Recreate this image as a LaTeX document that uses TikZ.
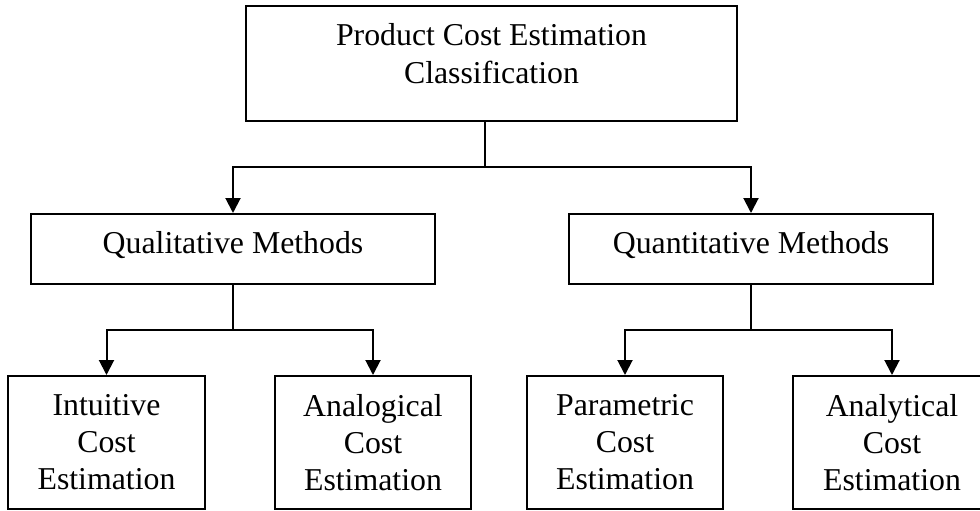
\documentclass[tikz,border=0pt]{standalone}
\usepackage{fontspec}
\setmainfont{Liberation Serif}
\usetikzlibrary{arrows.meta}
\begin{document}
\begin{tikzpicture}[x=1pt,y=-1pt,
  box/.style={draw=black,line width=2pt,align=center,inner sep=0pt,
    font=\fontsize{31.8}{37}\selectfont},
  conn/.style={line width=2pt},
  arr/.style={conn,-{Triangle[width=15pt,length=15pt]}}]
\useasboundingbox (0,0) rectangle (980,511);
\clip (0,0) rectangle (980,511);
\node[box,minimum width=491pt,minimum height=115pt,text depth=20pt] (top) at (491.5,63.5)
  {Product Cost Estimation\\[1pt]Classification};
\node[box,minimum width=404pt,minimum height=70pt,text height=22pt,text depth=14pt] (qual) at (233,249) {Qualitative Methods};
\node[box,minimum width=364pt,minimum height=70pt,text height=22pt,text depth=14pt] (quant) at (751,249) {Quantitative Methods};
\node[box,minimum width=197pt,minimum height=133pt] (intu) at (106.5,442.5) {Intuitive\\Cost\\Estimation};
\node[box,minimum width=196pt,minimum height=133pt] (anal) at (373,442.5) {Analogical\\Cost\\Estimation};
\node[box,minimum width=196pt,minimum height=133pt] (param) at (625,442.5) {Parametric\\Cost\\Estimation};
\node[box,minimum width=198pt,minimum height=133pt] (analy) at (892,442.5) {Analytical\\Cost\\Estimation};
\coordinate (s1) at (485,167);
\coordinate (s2) at (233,330);
\coordinate (s3) at (751,330);
\draw[conn] (top.south -| s1) -- (s1);
\draw[arr] (s1) -| (qual.north);
\draw[arr] (s1) -| (quant.north);
\draw[conn] (qual.south) -- (s2);
\draw[arr] (s2) -| (intu.north);
\draw[arr] (s2) -| (anal.north);
\draw[conn] (quant.south) -- (s3);
\draw[arr] (s3) -| (param.north);
\draw[arr] (s3) -| (analy.north);
\end{tikzpicture}
\end{document}
